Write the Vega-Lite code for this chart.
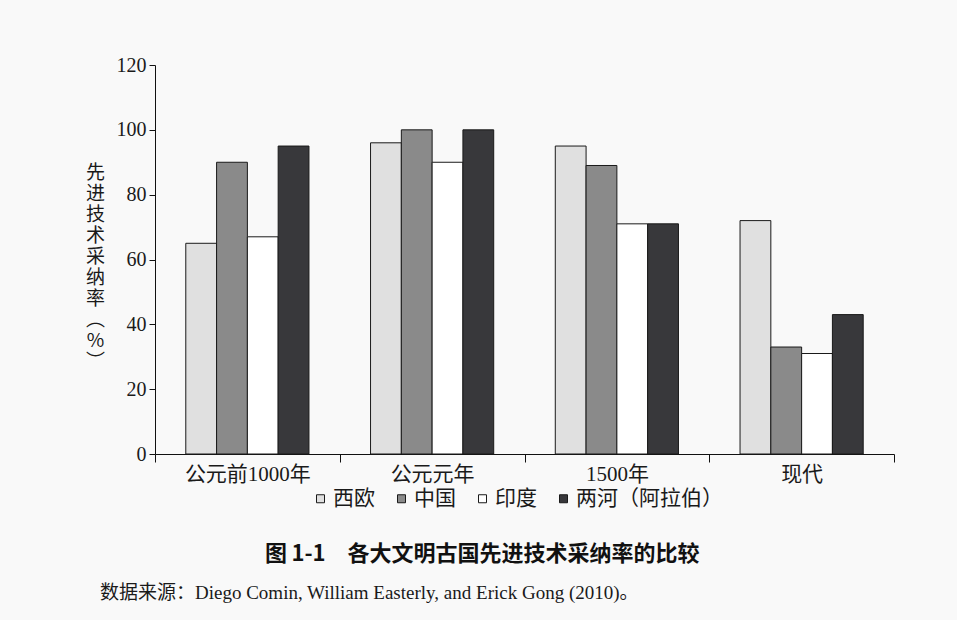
{
  "$schema": "https://vega.github.io/schema/vega-lite/v6.json",
  "width": 739,
  "height": 389,
  "autosize": {"type": "none"},
  "padding": {"left": 155, "top": 65, "right": 63, "bottom": 166},
  "background": "#f9f9f9",
  "data": {
    "values": [
      {"period": "公元前1000年", "region": "西欧", "value": 65},
      {"period": "公元前1000年", "region": "中国", "value": 90},
      {"period": "公元前1000年", "region": "印度", "value": 67},
      {"period": "公元前1000年", "region": "两河（阿拉伯）", "value": 95},
      {"period": "公元元年", "region": "西欧", "value": 96},
      {"period": "公元元年", "region": "中国", "value": 100},
      {"period": "公元元年", "region": "印度", "value": 90},
      {"period": "公元元年", "region": "两河（阿拉伯）", "value": 100},
      {"period": "1500年", "region": "西欧", "value": 95},
      {"period": "1500年", "region": "中国", "value": 89},
      {"period": "1500年", "region": "印度", "value": 71},
      {"period": "1500年", "region": "两河（阿拉伯）", "value": 71},
      {"period": "现代", "region": "西欧", "value": 72},
      {"period": "现代", "region": "中国", "value": 33},
      {"period": "现代", "region": "印度", "value": 31},
      {"period": "现代", "region": "两河（阿拉伯）", "value": 43}
    ]
  },
  "mark": {"type": "bar", "stroke": "#1a1a1a", "strokeWidth": 1},
  "encoding": {
    "x": {
      "field": "period",
      "type": "nominal",
      "sort": ["公元前1000年", "公元元年", "1500年", "现代"],
      "scale": {"paddingInner": 0, "paddingOuter": 0},
      "axis": {
        "title": null,
        "labelAngle": 0,
        "tickBand": "extent",
        "tickSize": 8,
        "tickColor": "#111",
        "domainColor": "#111",
        "labelFont": "Liberation Serif, Noto Sans CJK SC",
        "labelFontSize": 21,
        "labelColor": "#1a1a1a",
        "labelPadding": 1
      }
    },
    "xOffset": {
      "field": "region",
      "type": "nominal",
      "sort": ["西欧", "中国", "印度", "两河（阿拉伯）"],
      "scale": {"paddingInner": 0, "paddingOuter": 1.36}
    },
    "y": {
      "field": "value",
      "type": "quantitative",
      "scale": {"domain": [0, 120], "nice": false},
      "axis": {
        "values": [0, 20, 40, 60, 80, 100, 120],
        "grid": false,
        "tickSize": 6,
        "tickColor": "#111",
        "domainColor": "#111",
        "labelFont": "Liberation Serif",
        "labelFontSize": 20,
        "labelColor": "#1a1a1a",
        "labelPadding": 3,
        "title": ["先", "进", "技", "术", "采", "纳", "率", "︵", "%", "︶"],
        "titleAngle": 0,
        "titleX": -60,
        "titleY": 98,
        "titleAlign": "center",
        "titleBaseline": "top",
        "titleLineHeight": 21,
        "titleFont": "Noto Sans CJK SC",
        "titleFontSize": 19,
        "titleFontWeight": "normal",
        "titleColor": "#1a1a1a"
      }
    },
    "color": {
      "field": "region",
      "type": "nominal",
      "scale": {
        "domain": ["西欧", "中国", "印度", "两河（阿拉伯）"],
        "range": ["#e0e0e0", "#8a8a8a", "#ffffff", "#38383b"]
      },
      "legend": {
        "title": null,
        "orient": "none",
        "legendX": 155,
        "legendY": 423,
        "direction": "horizontal",
        "symbolType": "square",
        "symbolSize": 64,
        "symbolStrokeColor": "#1a1a1a",
        "symbolStrokeWidth": 1,
        "labelFont": "Noto Sans CJK SC",
        "labelFontSize": 21,
        "labelColor": "#1a1a1a",
        "labelOffset": 2,
        "columnPadding": 16
      }
    }
  },
  "title": {
    "text": "\u200b\u3000\u3000\u3000\u3000\u3000\u3000\u3000\u2002图\u20091-1\u3000各大文明古国先进技术采纳率的比较",
    "subtitle": "数据来源：Diego Comin, William Easterly, and Erick Gong (2010)。",
    "orient": "bottom",
    "anchor": "start",
    "frame": "group",
    "dx": -55,
    "offset": 35,
    "font": "Noto Sans CJK SC",
    "fontSize": 22,
    "fontWeight": "bold",
    "color": "#111",
    "subtitleFont": "Liberation Serif, Noto Sans CJK SC",
    "subtitleFontSize": 19,
    "subtitleColor": "#1a1a1a",
    "subtitlePadding": 18
  },
  "config": {
    "view": {"stroke": null}
  }
}
